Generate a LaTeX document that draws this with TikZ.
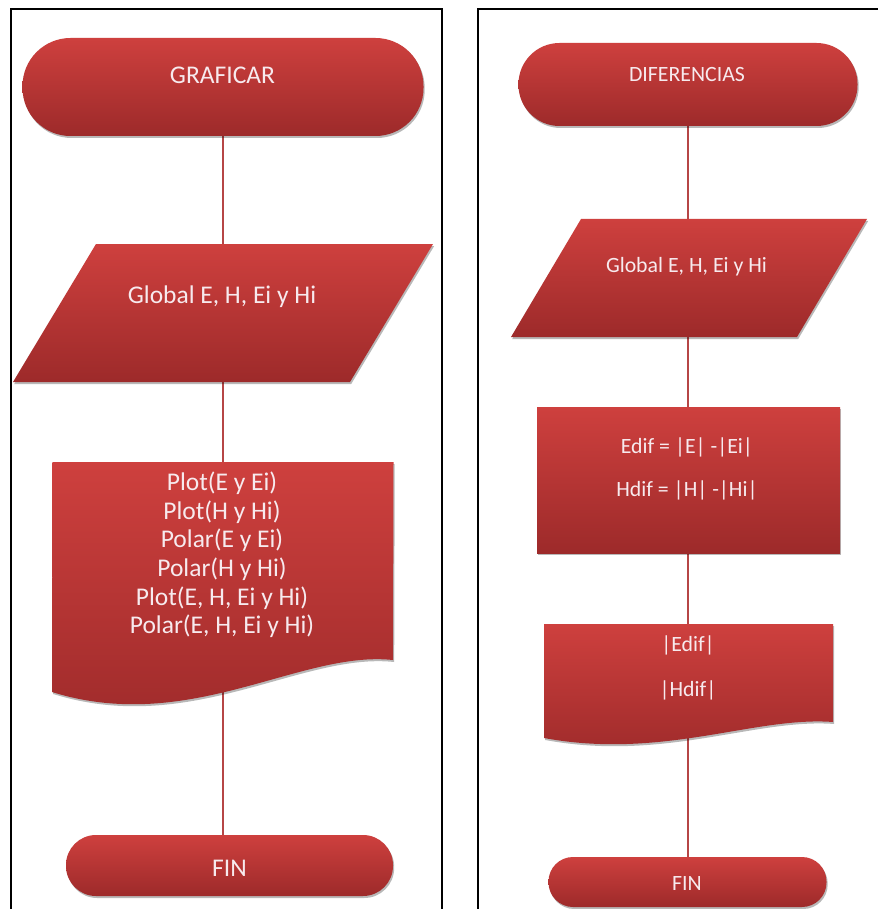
\documentclass[tikz,border=0pt]{standalone}
\usepackage{fontspec}
\setmainfont{Carlito}
\usetikzlibrary{shadows}
\definecolor{rtop}{RGB}{206,64,62}
\definecolor{rbot}{RGB}{157,42,42}
\definecolor{conn}{RGB}{182,70,70}
\definecolor{txtc}{RGB}{247,234,238}
\begin{document}
\begin{tikzpicture}[x=1pt,y=-1pt,
  box/.style n args={2}{rectangle, inner sep=0pt, outer sep=0pt, minimum width=#1pt, minimum height=#2pt},
  redshape/.style={top color=rtop, bottom color=rbot, draw=none,
    drop shadow={shadow xshift=1.2pt, shadow yshift=-2pt, opacity=0.28, fill=black}},
  conn/.style={draw=conn, line width=2.8pt},
  frame/.style={draw=black, line width=2.4pt},
  txtL/.style={text=txtc, align=center, inner sep=0pt, font=\fontsize{25.5}{28.6}\selectfont},
  txtR/.style={text=txtc, align=center, inner sep=0pt, font=\fontsize{21.8}{24}\selectfont}]
\useasboundingbox (0,0) rectangle (877,909);
\fill[white] (0,0) rectangle (877,909);

% frames
\draw[frame] (11,912) -- (11,9) -- (442,9) -- (442,912);
\draw[frame] (478,912) -- (478,9) -- (880,9);

% ---------- anchor boxes (left) ----------
\node[box={401}{98}] (g1) at (223,87) {};
\node[box={420}{138}] (p1) at (223,313) {};
\node[box={341}{243}] (d1) at (223,583.5) {};
\node[box={327}{61}] (f1) at (229.5,865.5) {};
% ---------- anchor boxes (right) ----------
\node[box={339}{83}] (g2) at (688,84.5) {};
\node[box={356}{118}] (p2) at (689,278) {};
\node[box={303}{146}] (r2) at (688.5,480) {};
\node[box={289}{121}] (d2) at (688.5,684.5) {};
\node[box={278}{50}] (f2) at (687.5,882) {};

% ---------- connectors ----------
\draw[conn] (g1.center) -- (p1.center);
\draw[conn] (p1.center) -- (d1.center);
\draw[conn] (d1.center) -- (d1.center |- f1.center);
\draw[conn] (g2.center) -- (g2.center |- p2.center);
\draw[conn] (g2.center |- p2.center) -- (g2.center |- r2.center);
\draw[conn] (g2.center |- r2.center) -- (g2.center |- d2.center);
\draw[conn] (g2.center |- d2.center) -- (g2.center |- f2.center);

% ---------- shapes (left) ----------
\path[redshape, rounded corners=48pt] (g1.north west) rectangle (g1.south east);
\path[redshape] (p1.south west) -- ++(337,0) -- (p1.north east) -- ++(-337,0) -- cycle;
\path[redshape] (d1.north west) -- (d1.north east) -- (393,660)
  .. controls (300,650) and (190,735) .. (52,692) -- cycle;
\path[redshape, rounded corners=30pt] (f1.north west) rectangle (f1.south east);

% ---------- shapes (right) ----------
\path[redshape, rounded corners=41pt] (g2.north west) rectangle (g2.south east);
\path[redshape] (p2.south west) -- ++(286,0) -- (p2.north east) -- ++(-286,0) -- cycle;
\path[redshape] (r2.north west) rectangle (r2.south east);
\path[redshape] (d2.north west) -- (d2.north east) -- (833,722)
  .. controls (755,716) and (663,760) .. (544,738) -- cycle;
\path[redshape, rounded corners=24.5pt] (f2.north west) rectangle (f2.south east);

% ---------- texts (left) ----------
\node[txtL] (t1) at (222.5,75) {GRAFICAR};
\node[txtL] (t2) at (222,297) {Global E, H, Ei y Hi};
\node[txtL] (t3) at (222,555) {Plot(E y Ei)\\Plot(H y Hi)\\Polar(E y Ei)\\Polar(H y Hi)\\Plot(E, H, Ei y Hi)\\Polar(E, H, Ei y Hi)};
\node[txtL] (t4) at (229.5,868) {FIN};

% ---------- texts (right) ----------
\node[txtR] (u1) at (687,75) {DIFERENCIAS};
\node[txtR] (u2) at (686.5,267) {Global E, H, Ei y Hi};
\node[txtR, font=\fontsize{21.8}{43}\selectfont] (u3) at (687,468.5) {Edif = |E| -|Ei|\\Hdif = |H| -|Hi|};
\node[txtR, font=\fontsize{21.8}{45}\selectfont] (u4) at (688,667.5) {|Edif|\\|Hdif|};
\node[txtR] (u5) at (687,883) {FIN};
\end{tikzpicture}
\end{document}
